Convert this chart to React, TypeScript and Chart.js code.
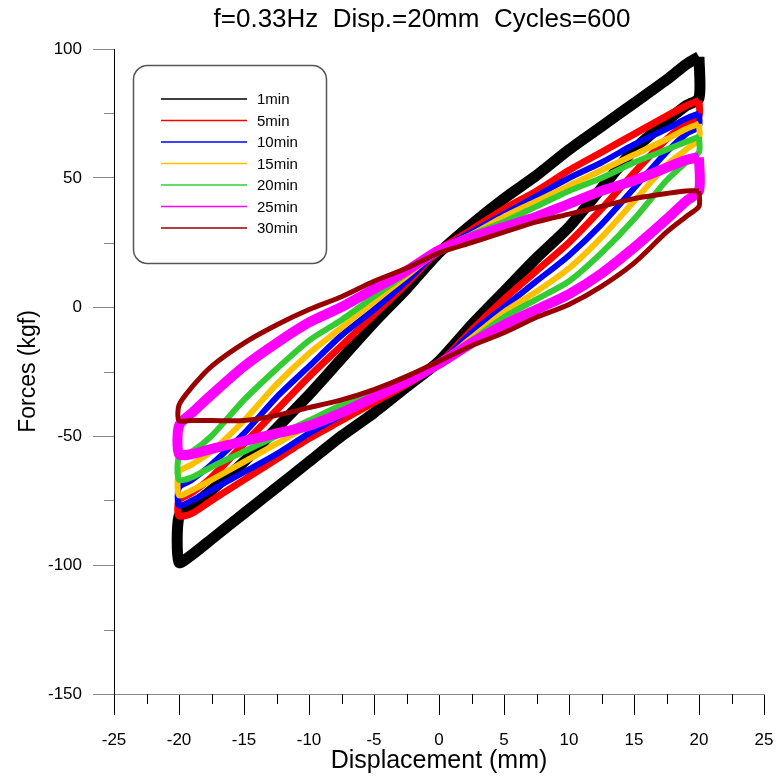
import React, { useEffect, useRef } from 'react';
import { Chart, registerables } from 'chart.js';
Chart.register(...registerables);

const TITLE = 'f=0.33Hz  Disp.=20mm  Cycles=600';
const X_TITLE = 'Displacement (mm)';
const Y_TITLE = 'Forces (kgf)';
const X_TICKS = [-25, -20, -15, -10, -5, 0, 5, 10, 15, 20, 25];
const X_MINOR = [-22.5, -17.5, -12.5, -7.5, -2.5, 2.5, 7.5, 12.5, 17.5, 22.5];
const Y_TICKS = [-150, -100, -50, 0, 50, 100];
const Y_MINOR = [-125, -75, -25, 25, 75];

const SERIES_LABELS = ['1min', '5min', '10min', '15min', '20min', '25min', '30min'];

// upper branch: x from +20 down to -20
const UPPER_X = [20, 19, 17.5, 15, 12.5, 10, 7.5, 5, 2.5, 0, -2.5, -5, -7.5, -10, -12.5, -15, -17.5, -19, -20];
// lower branch: x from -20 up to +20
const LOWER_X = [-20, -19, -17.5, -15, -12.5, -10, -7.5, -5, -2.5, 0, 2.5, 5, 7.5, 10, 12.5, 15, 17.5, 19, 20];

const UP_1MIN = [97, 94, 88, 79, 70, 61, 51, 42, 32, 21, 7, -6, -20, -34, -47, -60, -71, -77, -81];
const LOW_1MIN = [-99, -96, -90, -80, -70, -60, -50, -41, -31, -21, -7, 6, 19, 31, 46, 61, 72, 78, 81];
const UP_5MIN = [80, 78, 74, 67, 60, 53, 45, 38, 30, 22, 9, -3, -15, -27, -40, -53, -66, -72, -75];
const LOW_5MIN = [-81, -80, -75, -67, -59, -51, -44, -37, -30, -22, -9, 3, 14, 25, 38, 52, 65, 71, 74];
const UP_10MIN = [75, 73, 69, 63, 56, 50, 43, 36, 29, 22, 10, -1, -11, -23, -35, -49, -61, -67, -70];
const LOW_10MIN = [-77, -75, -71, -64, -57, -49, -42, -35, -29, -22, -10, 0, 10, 20, 32, 46, 60, 67, 70];
const UP_15MIN = [71, 69, 65, 59, 53, 47, 41, 35, 28, 22, 12, 2, -8, -18, -30, -44, -56, -61, -64];
const LOW_15MIN = [-73, -71, -67, -60, -53, -46, -40, -34, -28, -22, -12, -2, 6, 15, 27, 41, 55, 61, 65];
const UP_20MIN = [66, 64, 61, 56, 50, 45, 39, 33, 28, 22, 13, 4, -5, -13, -24, -36, -50, -56, -58];
const LOW_20MIN = [-67, -66, -62, -56, -50, -44, -38, -33, -27, -22, -13, -4, 3, 10, 21, 34, 49, 56, 60];
const UP_25MIN = [58, 57, 54, 49, 45, 40, 35, 31, 27, 22, 14, 7, 0, -6, -14, -23, -34, -41, -46];
const LOW_25MIN = [-57, -57, -55, -52, -49, -46, -41, -35, -29, -22, -14, -7, -1, 5, 13, 23, 34, 41, 45];
const UP_30MIN = [45, 45, 44, 42, 39, 36, 33, 29, 25, 21, 15, 10, 4, -1, -7, -14, -23, -31, -38];
const LOW_30MIN = [-44, -44, -44, -44, -42, -39, -36, -32, -27, -21, -15, -10, -4, 1, 8, 17, 29, 35, 39];

const UPPERS = [UP_1MIN, UP_5MIN, UP_10MIN, UP_15MIN, UP_20MIN, UP_25MIN, UP_30MIN];
const LOWERS = [LOW_1MIN, LOW_5MIN, LOW_10MIN, LOW_15MIN, LOW_20MIN, LOW_25MIN, LOW_30MIN];

const COLORS = ['#000000', '#FF0000', '#0000FF', '#FFC000', '#33CC33', '#FF00FF', '#990000'];
const WIDTHS = [11, 7, 6, 6, 6, 10, 5];

const FONT = '"Liberation Sans", Arial, sans-serif';

function loopPoints(up: number[], low: number[]) {
  const pts = UPPER_X.map((x, i) => ({ x, y: up[i] }));
  LOWER_X.forEach((x, i) => pts.push({ x, y: low[i] }));
  pts.push({ x: UPPER_X[0], y: up[0] });
  return pts;
}

const decorPlugin = {
  id: 'decor',
  afterDraw(chart: any) {
    const ctx = chart.ctx;
    const xs = chart.scales.x;
    const ys = chart.scales.y;
    const area = chart.chartArea;
    ctx.save();
    ctx.lineWidth = 1;
    ctx.strokeStyle = '#000';
    X_MINOR.forEach((v) => {
      const px = Math.round(xs.getPixelForValue(v)) + 0.5;
      ctx.beginPath();
      ctx.moveTo(px, area.bottom);
      ctx.lineTo(px, area.bottom + 10);
      ctx.stroke();
    });
    ctx.strokeStyle = '#888';
    Y_MINOR.forEach((v) => {
      const py = Math.round(ys.getPixelForValue(v)) + 0.5;
      ctx.beginPath();
      ctx.moveTo(area.left - 10, py);
      ctx.lineTo(area.left, py);
      ctx.stroke();
    });
    ctx.fillStyle = '#000';
    ctx.font = `26px ${FONT}`;
    ctx.textAlign = 'center';
    ctx.textBaseline = 'middle';
    ctx.fillText(TITLE, 422, 20);
    const bx = 133.5, by = 65.5, bw = 193, bh = 198, r = 14;
    ctx.beginPath();
    ctx.moveTo(bx + r, by);
    ctx.lineTo(bx + bw - r, by);
    ctx.arcTo(bx + bw, by, bx + bw, by + r, r);
    ctx.lineTo(bx + bw, by + bh - r);
    ctx.arcTo(bx + bw, by + bh, bx + bw - r, by + bh, r);
    ctx.lineTo(bx + r, by + bh);
    ctx.arcTo(bx, by + bh, bx, by + bh - r, r);
    ctx.lineTo(bx, by + r);
    ctx.arcTo(bx, by, bx + r, by, r);
    ctx.closePath();
    ctx.fillStyle = '#fff';
    ctx.fill();
    ctx.strokeStyle = '#555';
    ctx.lineWidth = 1.5;
    ctx.stroke();
    ctx.font = `15px ${FONT}`;
    ctx.textAlign = 'left';
    SERIES_LABELS.forEach((lab, i) => {
      const y = 99 + i * 21.5;
      ctx.strokeStyle = COLORS[i];
      ctx.lineWidth = 1.5;
      ctx.beginPath();
      ctx.moveTo(161, y);
      ctx.lineTo(247, y);
      ctx.stroke();
      ctx.fillStyle = '#000';
      ctx.fillText(lab, 257, y + 1);
    });
    ctx.restore();
  },
};

export default function App() {
  const ref = useRef<HTMLCanvasElement>(null);
  useEffect(() => {
    const canvas = ref.current!;
    const datasets = SERIES_LABELS.map((label, i) => ({
      label,
      data: loopPoints(UPPERS[i], LOWERS[i]),
      showLine: true,
      borderColor: COLORS[i],
      backgroundColor: COLORS[i],
      borderWidth: WIDTHS[i],
      borderJoinStyle: 'round',
      pointRadius: 0,
      tension: 0.25,
      fill: false,
      order: SERIES_LABELS.length - i,
    }));
    const chart = new Chart(canvas, {
      type: 'scatter',
      data: { datasets },
      options: {
        animation: false,
        responsive: false,
        devicePixelRatio: 1,
        layout: { padding: { top: 49, right: 14, bottom: 0, left: 0 } },
        plugins: { legend: { display: false }, tooltip: { enabled: false }, title: { display: false } },
        scales: {
          x: {
            type: 'linear',
            min: -25,
            max: 25,
            afterBuildTicks: (s: any) => { s.ticks = X_TICKS.map((v) => ({ value: v })); },
            afterFit: (s: any) => { s.height = 86; s.paddingLeft = 0; s.paddingRight = 0; },
            ticks: { color: '#000', font: { family: FONT, size: 17 }, padding: 15, maxRotation: 0, autoSkip: false },
            grid: { drawOnChartArea: false, drawTicks: true, tickLength: 21, tickColor: '#000' },
            border: { display: true, color: '#888', width: 1 },
            title: { display: true, text: X_TITLE, color: '#000', font: { family: FONT, size: 25 }, padding: { top: 0, bottom: 4 } },
          },
          y: {
            type: 'linear',
            min: -150,
            max: 100,
            afterBuildTicks: (s: any) => { s.ticks = Y_TICKS.map((v) => ({ value: v })); },
            afterFit: (s: any) => { s.width = 114; s.paddingTop = 0; s.paddingBottom = 0; },
            ticks: { color: '#000', font: { family: FONT, size: 17 }, padding: 11, autoSkip: false },
            grid: { drawOnChartArea: false, drawTicks: true, tickLength: 21, tickColor: '#888' },
            border: { display: true, color: '#000', width: 1 },
            title: { display: true, text: Y_TITLE, color: '#000', font: { family: FONT, size: 23 }, padding: { top: 15, bottom: 0 } },
          },
        },
      },
      plugins: [decorPlugin],
    });
    return () => chart.destroy();
  }, []);
  return (
    <div style={{ position: 'fixed', left: 0, top: 0, width: 778, height: 780, background: '#fff' }}>
      <canvas ref={ref} width={778} height={780} style={{ display: 'block' }} />
    </div>
  );
}
